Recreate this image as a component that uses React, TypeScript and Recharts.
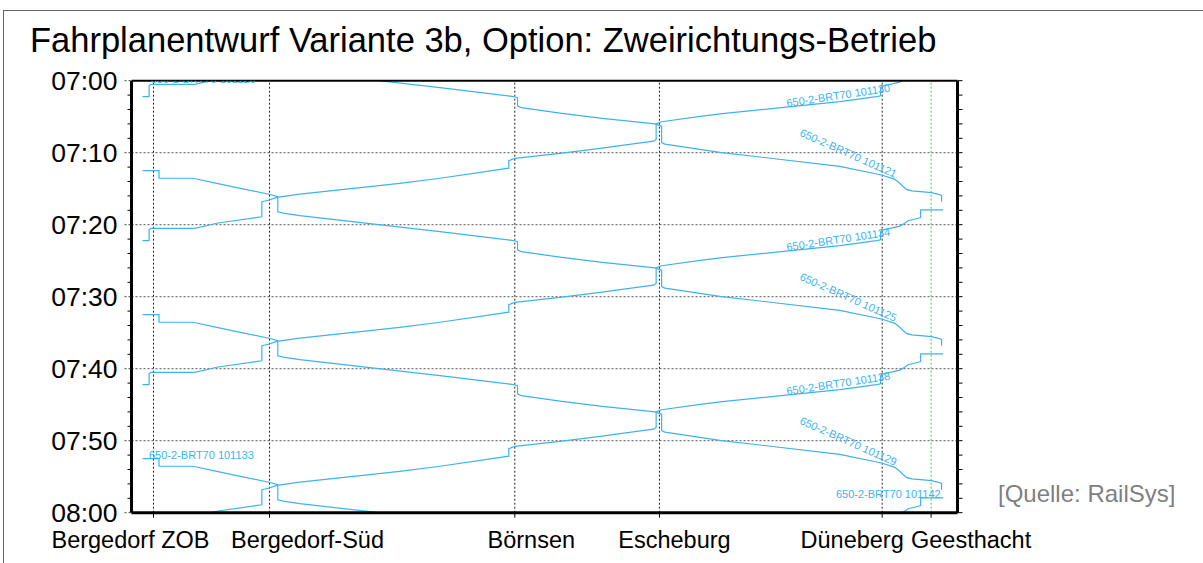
import React from 'react'
import { LineChart, Line, XAxis, YAxis, ReferenceLine, ReferenceDot } from 'recharts'

// stations along the line (km from the left edge of the diagram)
const STATIONS = ['Bergedorf ZOB', 'Bergedorf-Süd', 'Börnsen', 'Escheburg', 'Düneberg', 'Geesthacht']
const STATION_KM = [0.4, 2.51, 6.97, 9.6, 13.65, 14.54]

// time axis, minutes after 07:00
const TIME_TICKS = [0, 10, 20, 30, 40, 50, 60]
const TIME_LABELS = ['07:00', '07:10', '07:20', '07:30', '07:40', '07:50', '08:00']
const MINOR_TICKS = [0, 2, 4, 6, 8, 10, 12, 14, 16, 18, 20, 22, 24, 26, 28, 30, 32, 34, 36, 38, 40, 42, 44, 46, 48, 50, 52, 54, 56, 58, 60]

// track points of the down path (Bergedorf -> Geesthacht)
const DOWN_KM = [0.2, 0.5, 0.5, 1.12, 1.55, 2.52, 2.66, 2.66, 2.76, 3.06, 5.61, 6.94, 7.02, 7.02, 7.09, 7.79, 8.52, 9.52, 9.64, 9.64, 9.7, 10.7, 12.88, 13.64, 13.88, 13.97, 14.09, 14.19, 14.55, 14.73, 14.73]
// track points of the up path (Geesthacht -> Bergedorf)
const UP_KM = [14.76, 14.35, 14.35, 14.31, 14.12, 14.06, 13.97, 13.79, 13.64, 13.62, 13.62, 13.55, 12.88, 10.7, 10.34, 9.64, 9.56, 9.54, 9.54, 9.49, 8.52, 7.79, 6.97, 6.86, 6.86, 5.61, 4.88, 3.06, 2.64, 2.49, 2.37, 2.37, 1.55, 1.15, 0.35, 0.32, 0.32, 0.2]

// times (min after 07:00) at each track point
const T_101121 = [-7.5, -7.5, -6.45, -6.45, -5.75, -4.2, -3.9, -1.8, -1.6, -1.25, 0.95, 2.2, 2.35, 3.5, 3.75, 4.5, 5.2, 6.0, 6.3, 8.6, 8.8, 9.95, 11.9, 13.1, 13.7, 14.25, 15.1, 15.3, 15.55, 15.9, 16.8]
const T_101125 = [12.5, 12.5, 13.55, 13.55, 14.25, 15.8, 16.1, 18.2, 18.4, 18.75, 20.95, 22.2, 22.35, 23.5, 23.75, 24.5, 25.2, 26.0, 26.3, 28.6, 28.8, 29.95, 31.9, 33.1, 33.7, 34.25, 35.1, 35.3, 35.55, 35.9, 36.8]
const T_101129 = [32.5, 32.5, 33.55, 33.55, 34.25, 35.8, 36.1, 38.2, 38.4, 38.75, 40.95, 42.2, 42.35, 43.5, 43.75, 44.5, 45.2, 46.0, 46.3, 48.6, 48.8, 49.95, 51.9, 53.1, 53.7, 54.25, 55.1, 55.3, 55.55, 55.9, 56.8]
const T_101133 = [52.5, 52.5, 53.55, 53.55, 54.25, 55.8, 56.1, 58.2, 58.4, 58.75, 60.95]

const T_101126 = [-22.05, -22.05, -21.0, -20.9, -20.55, -20.2, -19.8, -19.5, -19.25, -19.0, -17.9, -17.8, -17.1, -15.4, -15.05, -14.3, -14.1, -14.0, -11.85, -11.6, -10.6, -9.9, -9.2, -8.9, -7.85, -6.45, -5.75, -4.25, -3.8, -3.4, -3.2, -1.1, -0.2, 0.5, 0.5, 0.75, 2.2, 2.2]
const T_101130 = [-2.05, -2.05, -1.0, -0.9, -0.55, -0.2, 0.2, 0.5, 0.75, 1.0, 2.1, 2.2, 2.9, 4.6, 4.95, 5.7, 5.9, 6.0, 8.15, 8.4, 9.4, 10.1, 10.8, 11.1, 12.15, 13.55, 14.25, 15.75, 16.2, 16.6, 16.8, 18.9, 19.8, 20.5, 20.5, 20.75, 22.2, 22.2]
const T_101134 = [17.95, 17.95, 19.0, 19.1, 19.45, 19.8, 20.2, 20.5, 20.75, 21.0, 22.1, 22.2, 22.9, 24.6, 24.95, 25.7, 25.9, 26.0, 28.15, 28.4, 29.4, 30.1, 30.8, 31.1, 32.15, 33.55, 34.25, 35.75, 36.2, 36.6, 36.8, 38.9, 39.8, 40.5, 40.5, 40.75, 42.2, 42.2]
const T_101138 = [37.95, 37.95, 39.0, 39.1, 39.45, 39.8, 40.2, 40.5, 40.75, 41.0, 42.1, 42.2, 42.9, 44.6, 44.95, 45.7, 45.9, 46.0, 48.15, 48.4, 49.4, 50.1, 50.8, 51.1, 52.15, 53.55, 54.25, 55.75, 56.2, 56.6, 56.8, 58.9, 59.8, 60.5, 60.5, 60.75, 62.2, 62.2]
const T_101142 = [57.95, 57.95, 59.0, 59.1, 59.45, 59.8, 60.2, 60.5]

const TRAINS = [
  { id: '101121', km: DOWN_KM, times: T_101121 },
  { id: '101125', km: DOWN_KM, times: T_101125 },
  { id: '101129', km: DOWN_KM, times: T_101129 },
  { id: '101133', km: DOWN_KM, times: T_101133 },
  { id: '101126', km: UP_KM, times: T_101126 },
  { id: '101130', km: UP_KM, times: T_101130 },
  { id: '101134', km: UP_KM, times: T_101134 },
  { id: '101138', km: UP_KM, times: T_101138 },
  { id: '101142', km: UP_KM, times: T_101142 },
]

const series = TRAINS.map((tr) => ({
  id: tr.id,
  points: tr.times.map((t, i) => ({ km: tr.km[i], t })),
}))

// train labels: which train, at which track point
const LABELS = [
  { train: '101126', at: 34, anchor: 'start', angle: 0, dx: 0, dy: -1 },
  { train: '101130', at: 11, anchor: 'end', angle: -8.5, dx: 14, dy: -5 },
  { train: '101134', at: 11, anchor: 'end', angle: -8.5, dx: 14, dy: -5 },
  { train: '101138', at: 11, anchor: 'end', angle: -8.5, dx: 14, dy: -5 },
  { train: '101121', at: 23, anchor: 'end', angle: 24, dx: 13, dy: 3 },
  { train: '101125', at: 23, anchor: 'end', angle: 24, dx: 13, dy: 3 },
  { train: '101129', at: 23, anchor: 'end', angle: 24, dx: 13, dy: 3 },
  { train: '101133', at: 0, anchor: 'start', angle: 0, dx: 6.5, dy: 0.5 },
  { train: '101142', at: 0, anchor: 'end', angle: 0, dx: -2.5, dy: 0.5 },
]

const BLUE = '#3db2f2'
const FONT = '"Liberation Sans", Arial, sans-serif'
const LABEL_DX = [-23, 38, 16.5, 15, -30, 40]

// plot rectangle
const PLOT = { left: 131.5, top: 80.7, right: 957.5, bottom: 512.7 }

const LeftTick = (props: any) => {
  const { x, y, payload } = props
  const idx = TIME_TICKS.indexOf(payload.value)
  const major = idx >= 0
  return (
    <g>
      <line x1={x - (major ? 7 : 4)} x2={x} y1={y} y2={y} stroke={major ? '#444' : '#000'} strokeDasharray={major ? '2 2' : undefined} />
      {major && (
        <text x={x - 14} y={y} textAnchor="end" dominantBaseline="central" fontSize={26.5} fontFamily={FONT} fill="#000">
          {TIME_LABELS[idx]}
        </text>
      )}
    </g>
  )
}

const RightTick = (props: any) => {
  const { x, y } = props
  return <line x1={x} x2={x + 5} y1={y} y2={y} stroke="#000" />
}

const StationTick = (props: any) => {
  const { x, y, payload } = props
  const idx = STATION_KM.indexOf(payload.value)
  return (
    <g>
      <line x1={x} x2={x} y1={y} y2={y + 5} stroke="#000" />
      <text x={x + LABEL_DX[idx]} y={548} textAnchor="middle" fontSize={23.5} fontFamily={FONT} fill="#000">
        {STATIONS[idx]}
      </text>
    </g>
  )
}

export default function App() {
  return (
    <div style={{ position: 'absolute', left: 0, top: 0, width: 1203, height: 563, background: '#fff', overflow: 'hidden' }}>
      <div style={{ position: 'absolute', left: 3, top: 10, width: 1300, height: 700, borderTop: '1px solid #666', borderLeft: '1px solid #666' }} />
      <div style={{ position: 'absolute', left: 30, top: 23, fontSize: 34.5, lineHeight: '34.5px', fontFamily: FONT, color: '#000', whiteSpace: 'nowrap' }}>
        Fahrplanentwurf Variante 3b, Option: Zweirichtungs-Betrieb
      </div>
      <div style={{ position: 'absolute', left: 998, top: 482, fontSize: 24, lineHeight: '24px', fontFamily: FONT, color: '#7f7f7f', whiteSpace: 'nowrap' }}>
        [Quelle: RailSys]
      </div>
      <div style={{ position: 'absolute', left: 0, top: 0 }}>
        <LineChart
          width={1203}
          height={563}
          margin={{ top: PLOT.top - 1, right: 1203 - PLOT.right - 1, bottom: 563 - PLOT.bottom - 1, left: PLOT.left - 1 }}
        >
          <XAxis
            type="number"
            dataKey="km"
            domain={[0, 15.02]}
            allowDataOverflow
            ticks={STATION_KM}
            interval={0}
            height={1}
            tickSize={0}
            tickMargin={0}
            tickLine={false}
            tick={<StationTick />}
            axisLine={{ stroke: '#000', strokeWidth: 3 }}
          />
          <XAxis xAxisId="top" orientation="top" type="number" domain={[0, 15.02]} allowDataOverflow height={1} tick={false} tickLine={false} axisLine={{ stroke: '#000', strokeWidth: 2 }} />
          <YAxis
            type="number"
            domain={[0, 60]}
            reversed
            allowDataOverflow
            ticks={MINOR_TICKS}
            interval={0}
            width={1}
            tickSize={0}
            tickMargin={0}
            tickLine={false}
            tick={<LeftTick />}
            axisLine={{ stroke: '#000', strokeWidth: 3 }}
          />
          <YAxis
            yAxisId="right"
            orientation="right"
            type="number"
            domain={[0, 60]}
            reversed
            allowDataOverflow
            ticks={MINOR_TICKS}
            interval={0}
            width={1}
            tickSize={0}
            tickMargin={0}
            tickLine={false}
            tick={<RightTick />}
            axisLine={{ stroke: '#000', strokeWidth: 3 }}
          />

          {TIME_TICKS.slice(1, -1).map((v) => (
            <ReferenceLine key={'h' + v} y={v} stroke="#555" strokeDasharray="2 2" />
          ))}
          {STATION_KM.map((km, i) => (
            <ReferenceLine
              key={'s' + i}
              x={km}
              stroke={i === STATION_KM.length - 1 ? '#22dd22' : '#222'}
              strokeDasharray="2 2"
            />
          ))}

          {series.map((s) => (
            <Line
              key={s.id}
              data={s.points}
              dataKey="t"
              type="linear"
              stroke={BLUE}
              strokeWidth={1.2}
              dot={false}
              activeDot={false}
              isAnimationActive={false}
            />
          ))}

          {LABELS.map((l) => {
            const s = series.find((q) => q.id === l.train)!
            const p = s.points[l.at]
            return (
              <ReferenceDot
                key={'l' + l.train}
                x={p.km}
                y={p.t}
                r={0}
                ifOverflow="visible"
                shape={(props: any) => (
                  <g>
                    <defs>
                      <clipPath id={'clip' + l.train}>
                        <rect x={PLOT.left} y={PLOT.top} width={PLOT.right - PLOT.left} height={PLOT.bottom - PLOT.top} />
                      </clipPath>
                    </defs>
                    <g clipPath={`url(#clip${l.train})`}>
                      <text
                        transform={`translate(${props.cx + l.dx},${props.cy + l.dy}) rotate(${l.angle})`}
                        textAnchor={l.anchor}
                        fontSize={11}
                        fontFamily={FONT}
                        fill={BLUE}
                      >
                        {'650-2-BRT70 ' + l.train}
                      </text>
                    </g>
                  </g>
                )}
              />
            )
          })}
        </LineChart>
      </div>
    </div>
  )
}
